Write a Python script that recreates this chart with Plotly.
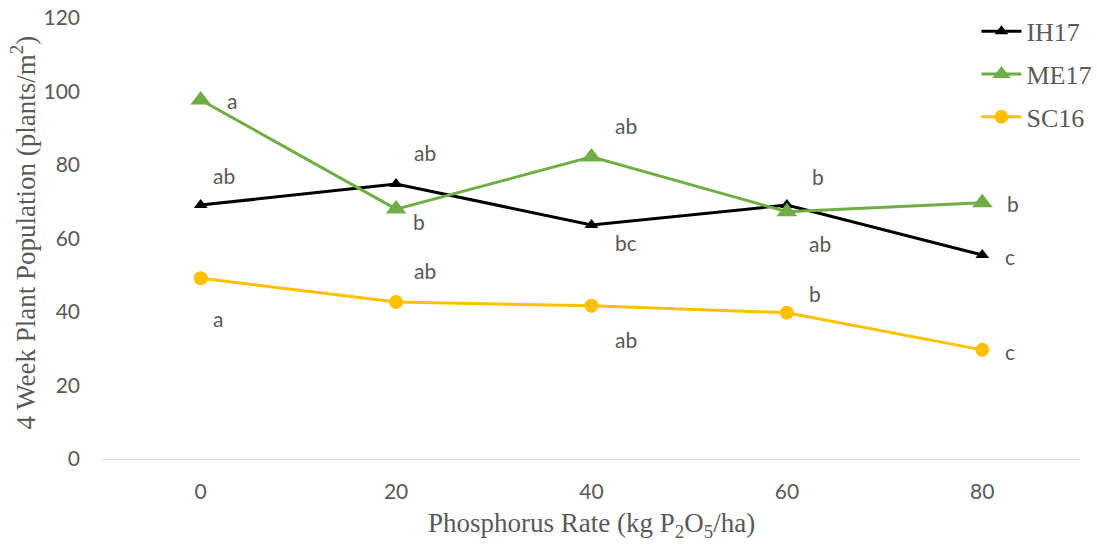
import plotly.graph_objects as go

rates = [0, 20, 40, 60, 80]
ih17 = [69.1, 74.8, 63.7, 69.1, 55.5]
me17 = [97.7, 68.0, 82.2, 67.3, 69.7]
sc16 = [49.2, 42.7, 41.7, 39.8, 29.7]

ih17_letters = ["ab", "ab", "bc", "b", "c"]
me17_letters = ["a", "b", "ab", "ab", "b"]
sc16_letters = ["a", "ab", "ab", "b", "c"]

# pixel offsets (x, y) of letter labels relative to their points
ih17_off = [(23, 30), (29, 32), (34, -18), (31, 29), (28, -1)]
me17_off = [(31, -1), (23, -12), (34, 31), (33, -32), (31, -1)]
sc16_off = [(17, -40), (29, 32), (34, -34), (28, 19), (28, -2)]

GREY = "#595959"
SANS = "Lato, 'Open Sans', sans-serif"
TICKFONT = dict(family=SANS, size=21, color=GREY)
SERIF = "'Liberation Serif', 'Times New Roman', serif"

fig = go.Figure()
series = [
    ("IH17", ih17, "black", "triangle-up", 12),
    ("ME17", me17, "#70AD47", "triangle-up", 18),
    ("SC16", sc16, "#FFC000", "circle", 14),
]
for name, vals, col, sym, size in series:
    fig.add_trace(go.Scatter(
        x=rates, y=vals, name=name, mode="lines+markers",
        legendgroup=name,
        line=dict(color=col, width=3),
        marker=dict(symbol=sym, size=size, color=col),
    ))

for vals, letters, offs in [(ih17, ih17_letters, ih17_off),
                            (me17, me17_letters, me17_off),
                            (sc16, sc16_letters, sc16_off)]:
    for xc, v, t, (dx, dy) in zip(rates, vals, letters, offs):
        fig.add_annotation(x=xc, y=v, xref="x", yref="y", text=t,
                           showarrow=False, xshift=dx, yshift=dy,
                           xanchor="center", yanchor="middle",
                           font=TICKFONT)

fig.add_annotation(text="4 Week Plant Population (plants/m<sup>2</sup>)",
                   xref="paper", yref="paper", x=0, y=0.5, xshift=-80,
                   yshift=6, xanchor="center", yanchor="middle",
                   textangle=-90, showarrow=False,
                   font=dict(family=SERIF, size=27, color=GREY))
fig.add_annotation(text="Phosphorus Rate (kg P<sub>2</sub>O<sub>5</sub>/ha)",
                   xref="paper", yref="paper", x=0.5, y=0, yshift=-66,
                   xanchor="center", yanchor="middle",
                   showarrow=False,
                   font=dict(family=SERIF, size=27, color=GREY))

fig.update_layout(
    width=1097, height=544,
    margin=dict(l=103, r=17, t=18, b=85, autoexpand=False),
    paper_bgcolor="white", plot_bgcolor="white",
    showlegend=True,
    legend=dict(x=0.894, y=1.023, xanchor="left", yanchor="top",
                font=dict(family=SERIF, size=26, color=GREY),
                bgcolor="rgba(0,0,0,0)", traceorder="grouped",
                tracegroupgap=6, itemwidth=40),
    xaxis=dict(range=[-10, 90], tickvals=rates, showgrid=False,
               showline=True, linecolor="#D9D9D9", linewidth=1,
               zeroline=False, ticks="", tickfont=TICKFONT,
               ticklabelstandoff=14, automargin=False),
    yaxis=dict(range=[0, 120], dtick=20, showgrid=False, showline=False,
               zeroline=False, ticks="", tickfont=TICKFONT,
               ticklabelstandoff=22, automargin=False),
)

fig.write_html("out.html")
